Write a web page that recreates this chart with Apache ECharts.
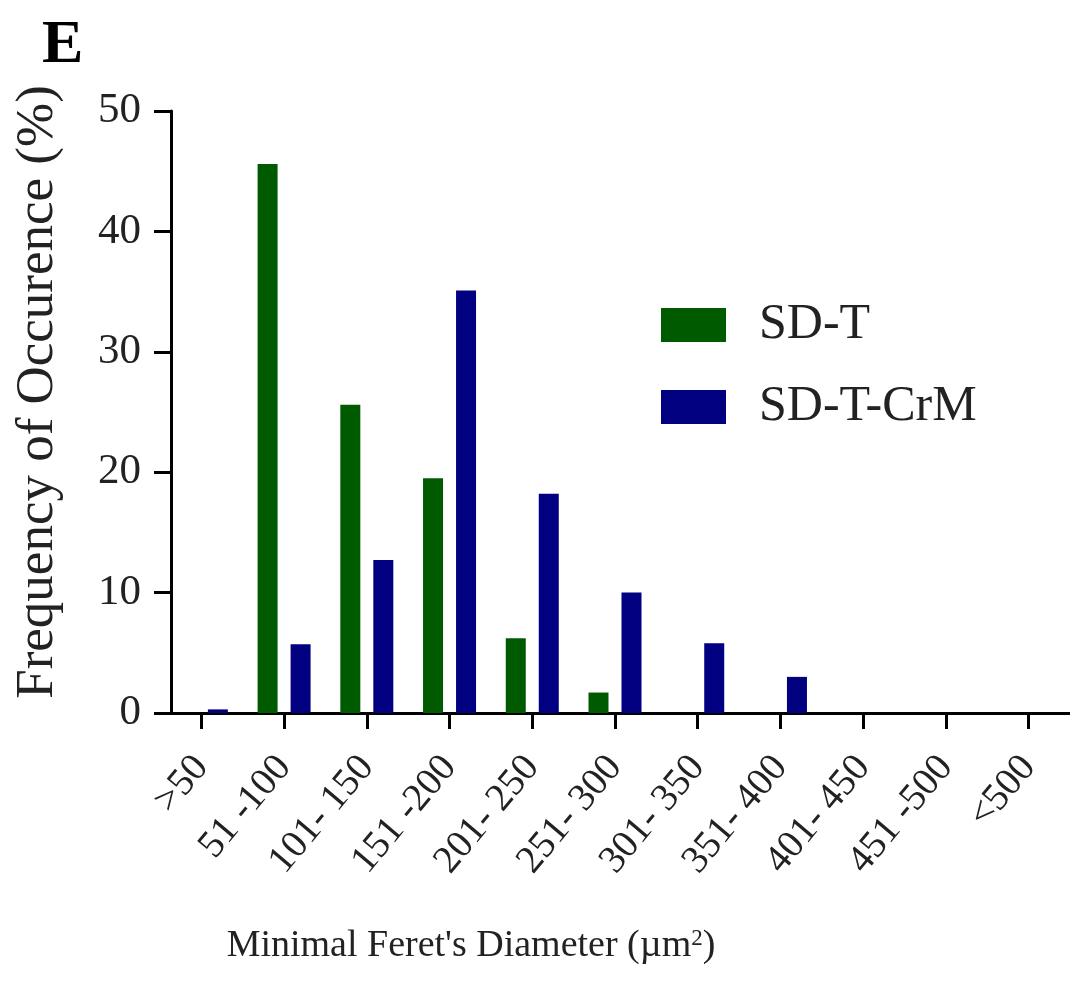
<!DOCTYPE html>
<html>
<head>
<meta charset="utf-8">
<script src="https://cdn.jsdelivr.net/npm/echarts@6/dist/echarts.min.js"></script>
<style>
html,body{margin:0;padding:0;background:#fff;}
#chart{width:1070px;height:985px;}
</style>
</head>
<body>
<div id="chart"></div>
<script>
const categories = ['>50', '51 -100', '101- 150', '151 -200', '201- 250', '251- 300', '301- 350', '351- 400', '401- 450', '451 -500', '<500'];
const sdT = [0, 45.6, 25.6, 19.5, 6.2, 1.7, 0, 0, 0, 0, 0];
const sdTCrM = [0.3, 5.7, 12.7, 35.1, 18.2, 10.0, 5.8, 3.0, 0, 0, 0];
const yTicks = [0, 10, 20, 30, 40, 50];

const FONT = '"Liberation Serif", "Times New Roman", serif';
const chart = echarts.init(document.getElementById('chart'));
chart.setOption({
  backgroundColor: '#ffffff',
  animation: false,
  title: {
    text: 'E',
    left: 37,
    top: 10,
    textStyle: {fontFamily: FONT, fontSize: 62, fontWeight: 'bold', color: '#000'}
  },
  legend: {
    orient: 'vertical',
    left: 656,
    top: 295,
    itemWidth: 65,
    itemHeight: 34,
    itemGap: 32,
    icon: 'rect',
    textStyle: {fontFamily: FONT, fontSize: 50, lineHeight: 50, color: '#222', padding: [0, 0, 0, 28]},
    data: ['SD-T', 'SD-T-CrM']
  },
  grid: {left: 160, width: 924, top: 111, height: 602, containLabel: false},
  xAxis: {
    type: 'category',
    data: categories,
    boundaryGap: true,
    axisLine: {lineStyle: {color: '#000', width: 3}},
    axisTick: {show: true, interval: 0, alignWithLabel: true, length: 16, lineStyle: {color: '#000', width: 3}},
    axisLabel: {rotate: 50, margin: 48, fontFamily: FONT, fontSize: 39, color: '#222', interval: 0},
    name: 'Minimal Feret\'s Diameter ({u|µm}{s|2}{u|)}',
    nameLocation: 'middle',
    nameGap: 214,
    nameTextStyle: {
      fontFamily: FONT, fontSize: 38, color: '#222',
      padding: [0, 288, 0, 0],
      rich: {
        u: {fontFamily: FONT, fontSize: 38, color: '#222'},
        s: {fontFamily: FONT, fontSize: 23, color: '#222', verticalAlign: 'top', padding: [0, 0, 14, 0]}
      }
    }
  },
  yAxis: {
    type: 'value',
    min: 0,
    max: 50,
    interval: 10,
    offset: -11,
    splitLine: {show: false},
    axisLine: {show: true, lineStyle: {color: '#000', width: 3}},
    axisTick: {show: true, length: 17, lineStyle: {color: '#000', width: 3}},
    axisLabel: {margin: 30, fontFamily: FONT, fontSize: 43, color: '#222',
      formatter: v => yTicks.includes(v) ? String(v) : ''},
    name: 'Frequency of Occurence (%)',
    nameLocation: 'middle',
    nameGap: 106,
    nameTextStyle: {fontFamily: FONT, fontSize: 53, color: '#222', padding: [0, 0, 0, 40]}
  },
  series: [
    {
      name: 'SD-T', type: 'bar', data: sdT, barWidth: 20, barGap: '65%',
      itemStyle: {color: '#005a00'}
    },
    {
      name: 'SD-T-CrM', type: 'bar', data: sdTCrM, barWidth: 20, barGap: '65%',
      itemStyle: {color: '#000080'}
    }
  ]
});
</script>
</body>
</html>
